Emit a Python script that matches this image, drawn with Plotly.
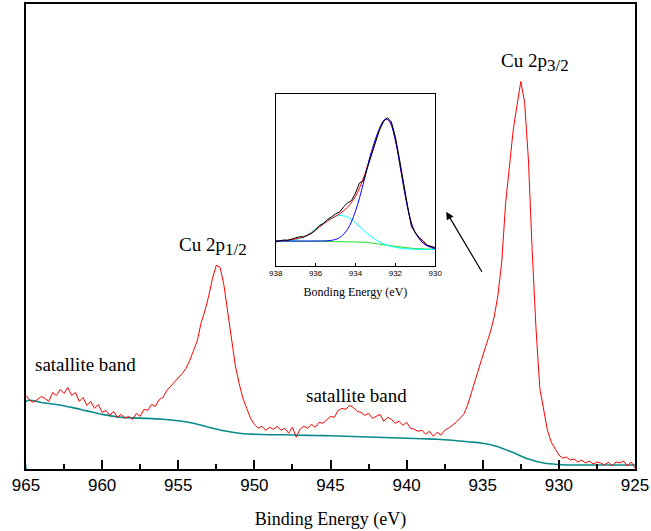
import plotly.graph_objects as go

# ---------------- main spectrum (Cu 2p) ----------------
E_START, E_STEP = 965.0, 0.25
cu2p_intensity = [
    73, 68, 66, 69, 72, 70, 67, 76, 73, 79, 75, 81, 73, 76, 67, 71, 63, 67, 60, 64, 56,
    58, 53, 57, 51, 54, 50, 52, 49, 55, 52, 59, 58, 64, 62, 69, 71, 78, 82, 86, 90,
    95, 100, 108, 118, 128, 146, 158, 173, 191, 204, 202, 184, 156, 128, 103, 85, 70, 60, 50, 44,
    40, 42, 38, 41, 39, 42, 38, 40, 35, 41, 31, 39, 42, 40, 44, 41, 46, 45, 49, 52,
    51, 58, 60, 59, 63, 61, 57, 56, 53, 55, 50, 52, 54, 47, 51, 49, 45, 47, 43, 46,
    40, 39, 37, 38, 34, 37, 32, 36, 33, 38, 40, 43, 46, 50, 54, 63, 76, 89, 102, 113,
    125, 137, 152, 174, 208, 266, 303, 340, 365, 389, 368, 310, 218, 140, 80, 58, 38, 26, 19, 13,
    10, 11, 8, 9, 6, 8, 5, 7, 4, 6, 5, 3, 6, 2, 6, 5, 7, 2, 6, 0,
]
binding_energy = [E_START - E_STEP * i for i in range(len(cu2p_intensity))]

# Shirley-type background (1 eV steps)
bg_energy = [965 - i for i in range(41)]
bg_intensity = [
    67, 66, 64, 61, 57.5, 54, 51.5, 50.5, 50, 49, 47.5, 45, 41, 37.5, 35, 34, 33.5, 33.5, 33,
    32.7, 32.4, 32, 31.5, 31, 30.5, 30, 29.5, 29, 28, 26.5, 25, 21.5, 15.5, 9, 5, 3.5, 3, 3, 3, 3, 3,
]

# ---------------- inset: Cu 2p3/2 deconvolution ----------------
raw_E = [938.0, 937.8, 937.6, 937.4, 937.2, 937.0, 936.8, 936.6, 936.4, 936.2, 936.0,
         935.8, 935.6, 935.4, 935.2, 935.0, 934.8, 934.6, 934.4, 934.2, 934.0,
         933.8, 933.6, 933.4, 933.2, 933.0, 932.8, 932.6, 932.4, 932.2, 932.0,
         931.8, 931.6, 931.4, 931.2, 931.0, 930.8, 930.6, 930.4, 930.2, 930.0]
raw_I = [72, 74, 78, 77, 80, 85, 88, 87, 93, 98, 108,
         122, 128, 140, 148, 157, 162, 178, 190, 197, 220,
         250, 258, 295, 330, 370, 410, 435, 448, 435, 390,
         325, 250, 185, 120, 100, 85, 75, 62, 58, 55]

env_E = [938.0, 937.6, 937.2, 936.8, 936.4, 936.0, 935.6, 935.2, 934.8, 934.4, 934.0,
         933.6, 933.2, 932.8, 932.6, 932.5, 932.4, 932.2, 932.0, 931.8, 931.6,
         931.4, 931.2, 931.0, 930.6, 930.2, 930.0]
env_I = [75, 76, 79, 84, 93, 108, 127, 143, 157, 177, 210,
         265, 340, 410, 435, 444, 443, 425, 380, 315, 245,
         180, 130, 100, 70, 57, 53]

main_E = [938.0, 936.0, 935.2, 934.8, 934.4, 934.0, 933.6, 933.2, 932.8, 932.6, 932.5,
          932.3, 932.0, 931.8, 931.6, 931.4, 931.2, 931.0, 930.6, 930.2, 930.0]
main_I = [75, 75, 77, 85, 110, 165, 250, 345, 415, 438, 443,
          438, 380, 315, 245, 180, 130, 100, 68, 55, 52]

sat_E = [938.0, 937.2, 936.8, 936.4, 936.0, 935.6, 935.2, 934.8, 934.4, 934.0,
         933.6, 933.2, 932.8, 932.4, 932.0, 931.6, 931.0, 930.0]
sat_I = [74, 77, 82, 93, 112, 130, 145, 152, 147, 130,
         108, 88, 72, 62, 56, 52, 50, 49]

base_E = [938.0, 936.0, 935.0, 934.0, 933.4, 933.0, 932.5, 932.0, 931.5, 931.0, 930.5, 930.0]
base_I = [75, 74, 73, 72, 70, 67, 63, 59, 55, 52, 51, 50]

SERIF = "Liberation Serif"
SANS = "Liberation Sans"

fig = go.Figure()

fig.add_trace(go.Scatter(x=[bg_energy[0]] + bg_energy, y=[-1] + bg_intensity, mode="lines",
                         line=dict(color="#0a8a8a", width=1.6, shape="spline"), showlegend=False))
fig.add_trace(go.Scatter(x=binding_energy, y=cu2p_intensity, mode="lines",
                         line=dict(color="#ff0000", width=1), showlegend=False))

# inset traces
fig.add_trace(go.Scatter(x=base_E, y=base_I, mode="lines", xaxis="x2", yaxis="y2",
                         line=dict(color="#22dd22", width=1, shape="spline"), showlegend=False))
fig.add_trace(go.Scatter(x=sat_E, y=sat_I, mode="lines", xaxis="x2", yaxis="y2",
                         line=dict(color="#00ffff", width=1, shape="spline"), showlegend=False))
fig.add_trace(go.Scatter(x=env_E, y=env_I, mode="lines", xaxis="x2", yaxis="y2",
                         line=dict(color="#ff0000", width=1, shape="spline"), showlegend=False))
fig.add_trace(go.Scatter(x=main_E, y=main_I, mode="lines", xaxis="x2", yaxis="y2",
                         line=dict(color="#0000ff", width=1, shape="spline"), showlegend=False))
fig.add_trace(go.Scatter(x=raw_E, y=raw_I, mode="lines", xaxis="x2", yaxis="y2",
                         line=dict(color="#000000", width=1), showlegend=False))

SUB = '<sub><span style="font-size:17px">{}</span></sub>'

fig.update_layout(
    width=651, height=531,
    margin=dict(l=26, r=13, t=2, b=62),
    paper_bgcolor="white", plot_bgcolor="white",
    xaxis=dict(
        range=[965, 925], tickmode="array", tickvals=[965, 960, 955, 950, 945, 940, 935, 930, 925],
        ticks="inside", ticklen=9, tickwidth=2, tickcolor="black", ticklabeloverflow="allow",
        minor=dict(dtick=2.5, tick0=925, ticks="inside", ticklen=5, tickwidth=2, tickcolor="black"),
        showline=True, linecolor="black", linewidth=1.5, mirror=True, showgrid=False, zeroline=False,
        tickfont=dict(family=SANS, size=17, color="black"),
        title=dict(text="Binding Energy (eV)", font=dict(family=SERIF, size=18, color="black"), standoff=18),
    ),
    yaxis=dict(
        range=[-1, 467], showticklabels=False, ticks="", showline=True, linecolor="black",
        linewidth=1.5, mirror=True, showgrid=False, zeroline=False,
    ),
    xaxis2=dict(
        domain=[0.410, 0.672], anchor="y2", range=[938, 930], tickvals=[938, 936, 934, 932, 930],
        ticks="inside", ticklen=3, tickcolor="black", showline=True, linecolor="black", linewidth=1,
        mirror=True, showgrid=False, zeroline=False, ticklabeloverflow="allow",
        tickfont=dict(family=SANS, size=8, color="black"),
        title=dict(text="Bonding Energy (eV)", font=dict(family=SERIF, size=12, color="black"), standoff=10),
    ),
    yaxis2=dict(
        domain=[0.437, 0.807], anchor="x2", range=[0, 520], showticklabels=False, ticks="",
        showline=True, linecolor="black", linewidth=1, mirror=True, showgrid=False, zeroline=False,
    ),
    annotations=[
        dict(x=931.6, y=408, xref="x", yref="y", showarrow=False, xanchor="center", yanchor="middle",
             text="Cu 2p" + SUB.format("3/2"), font=dict(family=SERIF, size=19, color="black")),
        dict(x=952.7, y=223, xref="x", yref="y", showarrow=False, xanchor="center", yanchor="middle",
             text="Cu 2p" + SUB.format("1/2"), font=dict(family=SERIF, size=19, color="black")),
        dict(x=961.1, y=104, xref="x", yref="y", showarrow=False, xanchor="center", yanchor="middle",
             text="satallite band", font=dict(family=SERIF, size=19, color="black")),
        dict(x=943.3, y=73, xref="x", yref="y", showarrow=False, xanchor="center", yanchor="middle",
             text="satallite band", font=dict(family=SERIF, size=19, color="black")),
        dict(x=937.4, y=258, ax=935.0, ay=196, xref="x", yref="y", axref="x", ayref="y",
             showarrow=True, arrowhead=2, arrowsize=1.3, arrowwidth=1.2, arrowcolor="black", text=""),
    ],
)

fig.write_html("out.html")
